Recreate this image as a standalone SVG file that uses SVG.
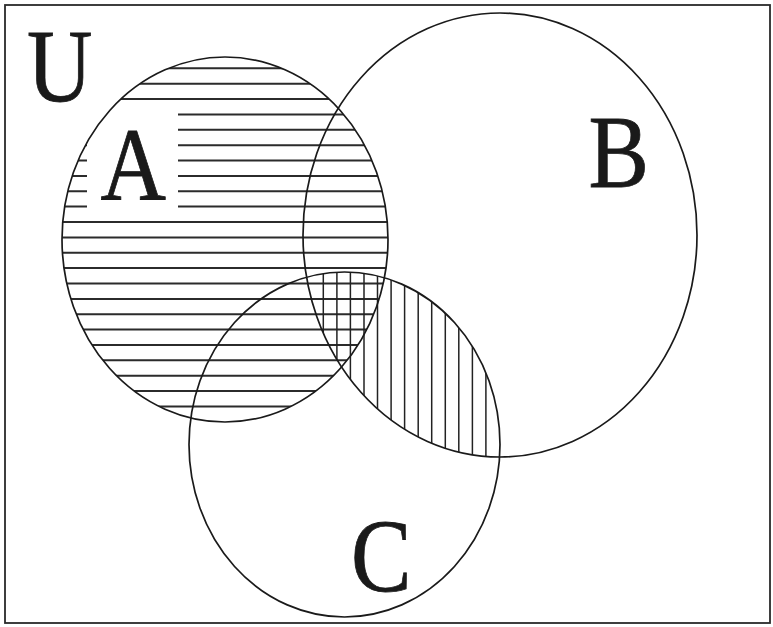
<svg xmlns="http://www.w3.org/2000/svg" width="773" height="627" viewBox="0 0 773 627">
  <style>
    .outline { fill: none; stroke: #1a1a1a; stroke-width: 1.7; }
    .hatch-h { fill: none; stroke: #2b2b2b; stroke-width: 2; }
    .hatch-v { fill: none; stroke: #222; stroke-width: 1.5; }
    .label { font-family: "Liberation Serif", "Times New Roman", serif; font-size: 103px; fill: #1a1a1a; stroke: #1a1a1a; stroke-width: 0.8; }
  </style>
  <defs>
    <clipPath id="clipA"><ellipse cx="225" cy="239.5" rx="163" ry="182.5"/></clipPath>
    <clipPath id="clipB"><ellipse cx="500" cy="235" rx="197" ry="222"/></clipPath>
    <clipPath id="clipC"><ellipse cx="344.5" cy="444.5" rx="155.5" ry="172.5"/></clipPath>
  </defs>
  <rect x="0" y="0" width="773" height="627" fill="#ffffff"/>
  <g id="universe">
    <rect x="5" y="5" width="765" height="618" fill="none" stroke="#2a2a2a" stroke-width="1.8"/>
    <text class="label" transform="translate(27,101) scale(0.88,1)">U</text>
  </g>
  <g id="hatching">
    <g clip-path="url(#clipA)">
      <path class="hatch-h" d="M50 68.3H400M50 83.7H400M50 99H400M50 114.4H400M50 129.8H400M50 145.2H400M50 160.5H400M50 175.9H400M50 191.3H400M50 206.6H400M50 222H400M50 237.4H400M50 252.7H400M50 268.1H400M50 283.5H400M50 298.9H400M50 314.2H400M50 329.6H400M50 345H400M50 360.3H400M50 375.7H400M50 391.1H400M50 406.4H400"/>
    </g>
    <rect x="87" y="107" width="91" height="108" fill="#ffffff"/>
    <g clip-path="url(#clipB)">
      <g clip-path="url(#clipC)">
        <path class="hatch-v" d="M323.3 250V480M336.9 250V480M350.4 250V480M364 250V480M377.5 250V480M391.1 250V480M404.6 250V480M418.2 250V480M431.7 250V480M445.3 250V480M458.8 250V480M472.4 250V480M485.9 250V480"/>
      </g>
    </g>
  </g>
  <g id="A">
    <ellipse class="outline" cx="225" cy="239.5" rx="163" ry="182.5"/>
    <text class="label" transform="translate(100.5,200) scale(0.88,1)">A</text>
  </g>
  <g id="B">
    <ellipse class="outline" cx="500" cy="235" rx="197" ry="222"/>
    <text class="label" transform="translate(588.5,187) scale(0.88,1)">B</text>
  </g>
  <g id="C">
    <ellipse class="outline" cx="344.5" cy="444.5" rx="155.5" ry="172.5"/>
    <text class="label" transform="translate(351,591) scale(0.88,1)">C</text>
  </g>
</svg>
